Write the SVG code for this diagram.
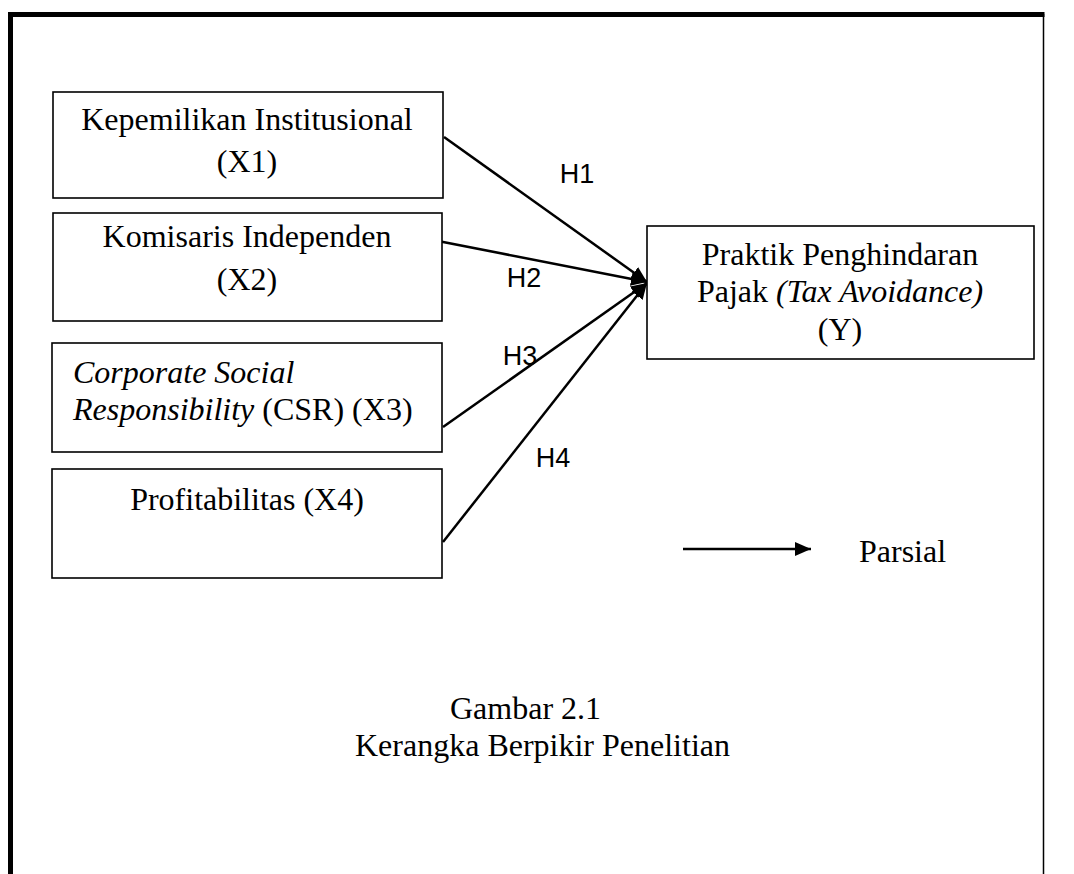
<svg xmlns="http://www.w3.org/2000/svg" width="1074" height="874" viewBox="0 0 1074 874">
<style>
.box{fill:#fff;stroke:#000;stroke-width:1.6}
.t{font-family:"Liberation Serif","Times New Roman",serif;font-size:32px;fill:#000}
.c{text-anchor:middle}
.i{font-style:italic}
.h{font-family:"Liberation Sans",Arial,sans-serif;font-size:27px;fill:#000;text-anchor:middle}
.ln{stroke:#000;stroke-width:2.5;fill:none}
</style>
<defs>
<marker id="ah2" viewBox="0 0 16 14" refX="16" refY="7" markerWidth="16" markerHeight="14" markerUnits="userSpaceOnUse" orient="auto">
<path d="M0,0 L16,7 L0,14 Z" fill="#000"/>
</marker>
</defs>
<g id="frame">
<rect x="0" y="0" width="1074" height="874" fill="#fff"/>
<line x1="8" y1="14.5" x2="1044.5" y2="14.5" stroke="#000" stroke-width="5"/>
<line x1="10.5" y1="12" x2="10.5" y2="874" stroke="#000" stroke-width="5"/>
<line x1="1043.5" y1="14" x2="1043.5" y2="874" stroke="#000" stroke-width="1.5"/>
</g>
<g id="connectors">
<line class="ln" x1="444" y1="137" x2="647" y2="282" marker-end="url(#ah2)"/>
<line class="ln" x1="438" y1="241" x2="647" y2="282" marker-end="url(#ah2)"/>
<line class="ln" x1="443" y1="427" x2="647" y2="283" marker-end="url(#ah2)"/>
<line class="ln" x1="443" y1="542" x2="647" y2="283" marker-end="url(#ah2)"/>
<text class="h" x="577" y="183">H1</text>
<text class="h" x="524" y="287">H2</text>
<text class="h" x="520" y="365">H3</text>
<text class="h" x="553" y="467">H4</text>
</g>
<g id="x1">
<rect class="box" x="53" y="92" width="390" height="106"/>
<text class="t c" x="247" y="130">Kepemilikan Institusional</text>
<text class="t c" x="247" y="172">(X1)</text>
</g>
<g id="x2">
<rect class="box" x="53" y="213" width="389" height="108"/>
<text class="t c" x="247" y="247">Komisaris Independen</text>
<text class="t c" x="247" y="290">(X2)</text>
</g>
<g id="x3">
<rect class="box" x="52" y="343" width="390" height="109"/>
<text class="t i" x="73" y="383">Corporate Social</text>
<text class="t" x="73" y="420"><tspan class="i">Responsibility</tspan> (CSR) (X3)</text>
</g>
<g id="x4">
<rect class="box" x="52" y="469" width="390" height="109"/>
<text class="t c" x="247" y="510">Profitabilitas (X4)</text>
</g>
<g id="y">
<rect class="box" x="647" y="226" width="387" height="133"/>
<text class="t c" x="840" y="265">Praktik Penghindaran</text>
<text class="t c" x="840" y="302">Pajak <tspan class="i">(Tax Avoidance)</tspan></text>
<text class="t c" x="840" y="340">(Y)</text>
</g>
<g id="legend">
<line class="ln" x1="683" y1="549" x2="811" y2="549" marker-end="url(#ah2)"/>
<text class="t" x="859" y="562">Parsial</text>
</g>
<g id="caption">
<text class="t" x="450" y="719">Gambar 2.1</text>
<text class="t" x="355" y="756">Kerangka Berpikir Penelitian</text>
</g>
</svg>
